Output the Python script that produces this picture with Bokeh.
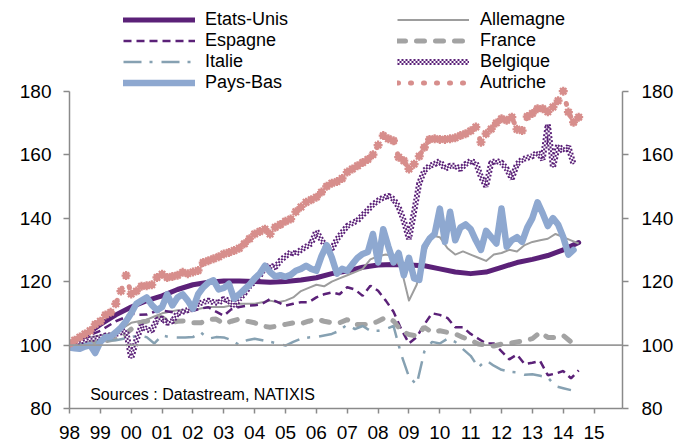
from bokeh.plotting import figure
from bokeh.models import (ColumnDataSource, LinearAxis, FixedTicker, Span, Legend,
                          LegendItem, Label, Range1d)
from bokeh.embed import file_html
from bokeh.resources import INLINE

# ---------------- data ----------------
year_ticks = list(range(1998, 2016))
year_labels = ["98", "99", "00", "01", "02", "03", "04", "05", "06", "07",
               "08", "09", "10", "11", "12", "13", "14", "15"]
y_ticks = [80, 100, 120, 140, 160, 180]

start_year = 1998.0

# half-yearly
etats_unis = [100, 103, 106.5, 109.5, 112, 114, 115.5, 117.5, 119, 119.8,
              120.2, 120.2, 120, 119.8, 120, 120.5, 121.2, 122.5, 123.3, 124.5,
              125.2, 125.4, 125.2, 125, 124, 123, 122.5, 123, 124.5, 126,
              127, 128.2, 130, 132.3]

# quarterly
allemagne = [100, 101, 102, 102.5, 103, 103.5, 104, 105.5, 107, 107.5, 108, 109,
             110, 110.5, 111, 111, 111, 111.5, 112, 112, 112, 112.5, 113, 113,
             113, 113.5, 114, 113.5, 114, 115, 117, 118, 119, 118.5, 120, 121,
             122, 123, 124, 127, 128, 128.5, 128, 124, 114, 119, 129, 134.5,
             134, 130.5, 128.5, 129.5, 128.5, 127.5, 126.5, 128.5, 129, 130, 129.5, 131.5,
             132.5, 133, 133.5, 135, 134, 133, 132]

espagne = [100, 101, 102, 103.5, 104.5, 106, 107.5, 108.5, 110, 109.5, 109.6, 110.5,
           110.8, 110.5, 110.1, 110.5, 110.8, 111.5, 111.9, 110.5, 109.2, 111.3, 112, 112.4,
           112.5, 113, 114.5, 113.5, 112.4, 113, 113.5, 113.5, 115, 116, 116.6, 116,
           118.2, 117.5, 115.5, 118.7, 117.1, 114, 110.5, 105, 100.5, 102.5, 106.5, 110,
           109.5, 108.5, 105.6, 105.6, 103.5, 102, 100.5, 100.5, 98, 95.5, 97, 94,
           94.4, 95, 90.5, 91, 91.8, 89.5, 92]

italie = [100, 100.3, 100.5, 100.8, 101, 101.5, 101.5, 102, 102.5, 103, 102.5, 100.5,
          103, 102.5, 102.4, 102.4, 102.5, 104, 102, 102.5, 102.4, 101.5, 100, 101.5,
          102, 101.5, 101, 100.5, 99.8, 101, 102, 102.4, 102.5, 103, 103.5, 104.5,
          106.5, 105, 106, 104.5, 104.5, 105, 106, 97, 90, 87.5, 98, 101,
          100.5, 102, 101, 98.7, 96.6, 93, 95.2, 93.5, 92.2, 91.6, 91.4, 90.6,
          90.8, 90.3, 89.8, 87, 86.4, 85.8]

france = [100, 100.3, 100.5, 100.8, 101, 101.5, 102, 103, 105, 107, 107.5, 108.5,
          108.7, 107, 107.5, 107.6, 107, 107, 108, 108.2, 106.7, 107.5, 108.2, 107.5,
          107, 106, 105.6, 106, 106.5, 107, 106.7, 107.5, 108.2, 107.5, 107, 107,
          108, 106.5, 106.5, 106.4, 107.5, 108.7, 107.6, 104.5, 103.3, 102.9, 105.6, 104,
          104.5, 104, 103.5, 102.4, 101.5, 100.3, 100, 99.7, 100.3, 100.5, 101, 101.4,
          102, 104, 102.4, 102.4, 103, 101]

# bimonthly
pays_bas = [99.2, 99, 98.8, 99.5, 100, 97.5,
            101, 102.5, 102.7, 104, 105.5, 107.5,
            110, 113, 114, 115, 112.6, 111,
            112, 116, 112.5, 115, 116, 114,
            111.4, 116, 118.2, 119.7, 120.4, 117.5,
            118, 119.3, 114.6, 116, 117.5, 119,
            121, 122.5, 125, 123, 121.6, 122,
            121.5, 122.1, 123.4, 124, 125, 124,
            123.4, 128, 131.5, 127.6, 122.5, 124,
            123.4, 125.5, 127.5, 128.7, 129.3, 135,
            126, 136.5, 131, 126, 129, 122,
            127.5, 121, 120.5, 131, 133.5, 135,
            143, 132.5, 142, 133, 137, 138,
            136.5, 133, 130, 136, 134, 132,
            143, 131, 133, 134, 132.5, 137,
            140, 145, 141.5, 137.5, 140, 138,
            134, 128.5, 130]

belgique = [100, 100.5, 101, 101.5, 102, 102,
            102.5, 103, 103, 103.5, 104, 104.5,
            95.8, 101.5, 106, 105, 104.5, 108,
            108.3, 107, 107.5, 110, 110.5, 111,
            112, 113, 113.5, 114, 113.5, 113.3,
            114.5, 114, 112, 114.5, 116.2, 118.5,
            120, 121.8, 124.5, 125, 124.5, 126.6,
            128, 129.2, 128.7, 130, 131, 132,
            136, 133, 131, 130.3, 133.3, 135.5,
            137.5, 138.5, 139.2, 141, 142.5, 144.3,
            145.5, 146.5, 147, 146, 143.5, 139.2,
            133.4, 142, 151, 155, 156.5, 157,
            158, 155.5, 156.5, 156.5, 155.4, 157,
            158, 157.5, 153, 150, 157.5, 158,
            157.5, 155.5, 152.4, 157, 158.5, 159,
            159.5, 160.8, 158.5, 169.5, 156, 163,
            161, 162.5, 157]

autriche = [100.5, 101.5, 102.5, 103.5, 104.5, 106.5,
            107.5, 109.5, 110.3, 113, 117, 121.9,
            116.1, 117, 118.5, 118.7, 119, 121.3,
            122.3, 121.3, 121.6, 122, 122.9, 122.5,
            123, 123.5, 126, 126.6, 127.2, 127.8,
            128.7, 129.2, 129.8, 130.5, 131.9, 133.5,
            135, 135.8, 136.5, 135, 137.1, 138,
            139, 139.7, 142, 143.5, 145, 145.8,
            146.6, 148.2, 150, 151, 151.5, 152.5,
            154.5, 155.5, 156.5, 157.5, 158.5, 160,
            163, 166, 165, 164.4, 159.2, 158.1,
            155.5, 157, 159.5, 162.3, 164.8, 165,
            164.8, 164.8, 165, 165.3, 166, 166.6,
            167.5, 168.7, 163.9, 166.6, 168.1, 170,
            171.3, 170.8, 171.8, 168, 167.6, 172,
            173, 174.5, 174.5, 173.5, 175, 177,
            180, 173.4, 170.2, 171.8]

source_text = "Sources : Datastream, NATIXIS"


def src(vals, step):
    return ColumnDataSource(dict(x=[start_year + i * step for i in range(len(vals))], y=vals))


FONT = "Liberation Sans"
PURPLE = "#5b2178"
BLUE = "#8ea8d0"
PINK = "#d78e8c"
GREY_L = "#9d9d9d"
GREY_F = "#a3a3a3"
TEAL = "#86a1b2"
AXIS = "#8a8a8a"

# frame extends above the 180 line so that the legend (drawn inside it) is not clipped
p = figure(width=692, height=443, output_backend="svg", toolbar_location=None,
           x_range=Range1d(1998.0, 2015.92), y_range=Range1d(80, 207),
           min_border_left=69, min_border_right=70, min_border_top=5, min_border_bottom=35,
           y_axis_location="left")
p.outline_line_color = None
p.grid.visible = False
p.background_fill_color = "white"
p.border_fill_color = "white"

# axes
for ax in p.xaxis:
    ax.ticker = FixedTicker(ticks=year_ticks)
    ax.major_label_overrides = {y: l for y, l in zip(year_ticks, year_labels)}
for ax in p.yaxis:
    ax.ticker = FixedTicker(ticks=y_ticks)
    ax.bounds = (80, 180)
right = LinearAxis(ticker=FixedTicker(ticks=y_ticks), bounds=(80, 180))
p.add_layout(right, "right")

for ax in p.axis:
    ax.axis_line_color = AXIS
    ax.axis_line_width = 1.5
    ax.major_tick_line_color = AXIS
    ax.major_tick_line_width = 1.5
    ax.major_tick_in = 0
    ax.major_tick_out = 6
    ax.minor_tick_line_color = None
    ax.major_label_text_font = FONT
    ax.major_label_text_font_size = "19px"
    ax.major_label_text_color = "black"
p.xaxis.major_tick_out = 5
p.xaxis.major_label_standoff = 12
p.xaxis.major_label_text_line_height = 0.8
p.yaxis.major_label_standoff = 12
right.major_label_standoff = 13

p.add_layout(Span(location=100, dimension="width", line_color="#9a9a9a", line_width=1.7))

# series (draw order: first at the bottom)
r_us = p.line("x", "y", source=src(etats_unis, 0.5), line_color=PURPLE, line_width=5,
              line_join="round", line_cap="round")
r_de = p.line("x", "y", source=src(allemagne, 0.25), line_color=GREY_L, line_width=2,
              line_join="round")
r_es = p.line("x", "y", source=src(espagne, 0.25), line_color=PURPLE, line_width=2.5,
              line_dash="8 5")
r_fr = p.line("x", "y", source=src(france, 0.25), line_color=GREY_F, line_width=5,
              line_dash="8 11", line_cap="round")
r_it = p.line("x", "y", source=src(italie, 0.25), line_color=TEAL, line_width=2.5,
              line_dash="18 8 3 9")
be_src = src(belgique, 1 / 6)
r_be1 = p.line("x", "y", source=be_src, line_color=PURPLE, line_width=6, line_dash="2 2")
r_be2 = p.line("x", "y", source=be_src, line_color="white", line_width=2)
r_be3 = p.line("x", "y", source=be_src, line_color=PURPLE, line_width=2, line_dash="2 2",
               line_dash_offset=2)
r_nl = p.line("x", "y", source=src(pays_bas, 1 / 6), line_color=BLUE, line_width=6.5,
              line_join="round", line_cap="round")
at_src = src(autriche, 1 / 6)
r_at = p.line("x", "y", source=at_src, line_color=PINK, line_width=5, line_dash="1 12",
              line_cap="round")
p.scatter("x", "y", source=at_src, marker="circle", size=6, color=PINK)
p.scatter("x", "y", source=at_src, marker="asterisk", size=9, line_color=PINK, line_width=2.2)

leg_kw = dict(glyph_width=72, glyph_height=21, label_height=21, label_standoff=10,
              spacing=0, padding=0, margin=0, border_line_alpha=0, background_fill_alpha=0,
              label_text_font=FONT, label_text_font_size="18px", label_text_color="black")
leg1 = Legend(items=[LegendItem(label="Etats-Unis", renderers=[r_us]),
                     LegendItem(label="Espagne", renderers=[r_es]),
                     LegendItem(label="Italie", renderers=[r_it]),
                     LegendItem(label="Pays-Bas", renderers=[r_nl])],
              location=(54, 315), **leg_kw)
leg2 = Legend(items=[LegendItem(label="Allemagne", renderers=[r_de]),
                     LegendItem(label="France", renderers=[r_fr]),
                     LegendItem(label="Belgique", renderers=[r_be1, r_be2, r_be3]),
                     LegendItem(label="Autriche", renderers=[r_at])],
              location=(328, 315), **leg_kw)
leg2.label_standoff = 11
p.add_layout(leg1)
p.add_layout(leg2)

p.add_layout(Label(x=1998.67, y=84.3, text=source_text, text_font=FONT,
                   text_font_size="16px", text_baseline="middle", text_color="black"))

open("out.html", "w").write(file_html(p, INLINE))
